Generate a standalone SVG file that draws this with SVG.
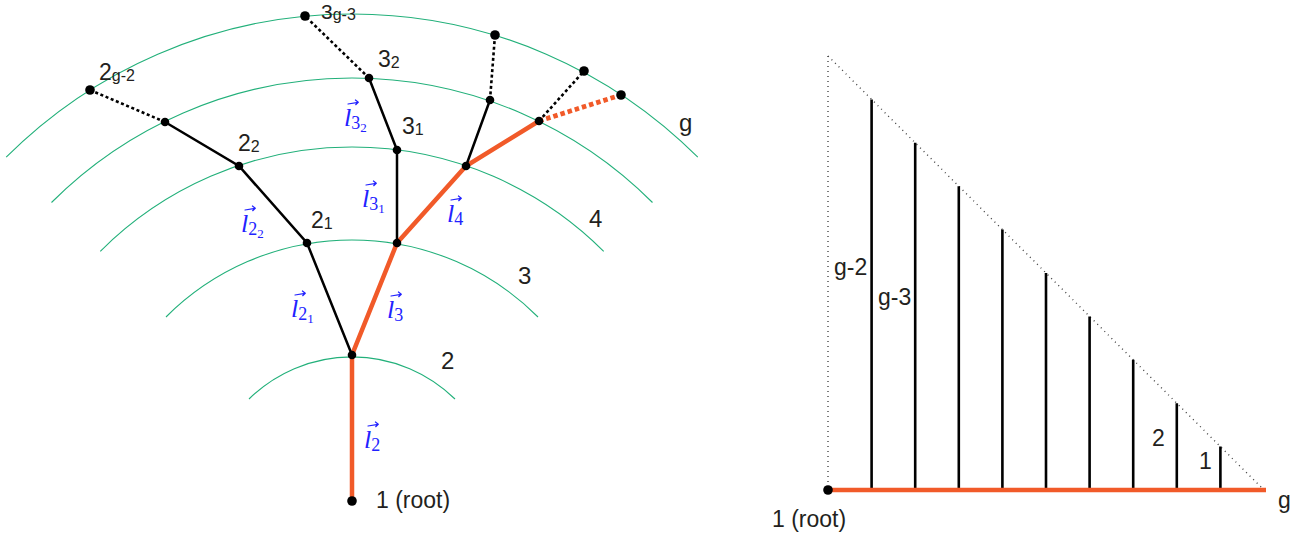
<svg xmlns="http://www.w3.org/2000/svg" xmlns:xlink="http://www.w3.org/1999/xlink" width="1312" height="535" viewBox="0 0 1312 535">
<style>
.arc{fill:none;stroke:#22b07a;stroke-width:1.1}
.e{fill:none;stroke:#000;stroke-width:2.5;stroke-linecap:round}
.ed{fill:none;stroke:#000;stroke-width:2.6;stroke-dasharray:3 2.6}
.o{fill:none;stroke:#f15a29;stroke-width:4.5}
.od{fill:none;stroke:#f15a29;stroke-width:4.8;stroke-dasharray:4.5 3}
.dot{fill:#000}
.t{font-family:"Liberation Sans",Arial,sans-serif;fill:#231f20;font-size:23px}
.big{font-size:24px}
.sub{font-size:16px}
.top{font-size:21px}
.vl{font-family:"Liberation Serif","Times New Roman",serif;font-style:italic;fill:#2222ff;font-size:26px}
.s1{font-style:normal;font-size:18px}
.s2{font-style:normal;font-size:13px}
.vec{fill:none;stroke:#2222ff;stroke-width:1.2;stroke-linecap:round;stroke-linejoin:round}
.dotted{fill:none;stroke:#444;stroke-width:1.4;stroke-dasharray:1 4}
.bar{stroke:#000;stroke-width:2.6}
</style>
<defs>
<path id="vec" d="M0 0 L10 -1.7 M7.4 -4 L10.3 -1.7 L7.7 0.7"/>
</defs>

<g id="arcs">
<path class="arc" d="M249 399 A147 147 0 0 1 455 399"/>
<path class="arc" d="M166 317 A263 263 0 0 1 538 317"/>
<path class="arc" d="M100.3 251.3 A356 356 0 0 1 603.7 251.3"/>
<path class="arc" d="M51.5 202.5 A425 425 0 0 1 652.5 202.5"/>
<path class="arc" d="M6.2 157.2 A489 489 0 0 1 697.8 157.2"/>
</g>

<g id="connectors">
<path class="o" d="M352 501 L352 355 L397 243 L466 166 L539 121"/>
<path class="od" d="M539 121 L621 95"/>
<path class="e" d="M352 355 L307 243 L239 166 L165 122"/>
<path class="e" d="M397 243 L397 150 L369 78"/>
<path class="e" d="M466 166 L490 100"/>
<path class="ed" d="M165 122 L90 90"/>
<path class="ed" d="M369 78 L305 16"/>
<path class="ed" d="M490 100 L495 35"/>
<path class="ed" d="M539 121 L584 71"/>
</g>

<g id="ring-labels">
<text class="t big" x="441" y="369">2</text>
<text class="t big" x="518" y="284">3</text>
<text class="t big" x="589" y="227">4</text>
<text class="t big" x="679" y="131">g</text>
</g>

<g id="node-root"><circle class="dot" cx="352" cy="501" r="4.8"/><text class="t" x="376" y="508">1 (root)</text></g>
<g id="node-2"><circle class="dot" cx="352" cy="355" r="4.3"/></g>
<g id="node-2-1"><circle class="dot" cx="307" cy="243" r="4.3"/><text class="t" x="311" y="228">2<tspan class="sub" dy="1">1</tspan></text></g>
<g id="node-2-2"><circle class="dot" cx="239" cy="166" r="4.3"/><text class="t" x="238" y="151">2<tspan class="sub" dy="1">2</tspan></text></g>
<g id="node-2-3"><circle class="dot" cx="165" cy="122" r="4.3"/></g>
<g id="node-2-g2"><circle class="dot" cx="90" cy="90" r="4.8"/><text class="t" x="99" y="80">2<tspan class="sub" dy="1">g-2</tspan></text></g>
<g id="node-3"><circle class="dot" cx="397" cy="243" r="4.3"/></g>
<g id="node-3-1"><circle class="dot" cx="397" cy="150" r="4.3"/><text class="t" x="402" y="134">3<tspan class="sub" dy="1">1</tspan></text></g>
<g id="node-3-2"><circle class="dot" cx="369" cy="78" r="4.3"/><text class="t" x="378" y="67">3<tspan class="sub" dy="1">2</tspan></text></g>
<g id="node-3-g3"><circle class="dot" cx="305" cy="16" r="4.8"/><text class="t top" x="321" y="19">3<tspan class="sub" dy="1">g-3</tspan></text></g>
<g id="node-4"><circle class="dot" cx="466" cy="166" r="4.3"/></g>
<g id="node-4-1"><circle class="dot" cx="490" cy="100" r="4.3"/></g>
<g id="node-4-g"><circle class="dot" cx="495" cy="35" r="4.8"/></g>
<g id="node-5"><circle class="dot" cx="539" cy="121" r="4.3"/></g>
<g id="node-5-g"><circle class="dot" cx="584" cy="71" r="4.8"/></g>
<g id="node-g"><circle class="dot" cx="621" cy="95" r="4.8"/></g>

<g id="vector-labels">
<text class="vl" x="364" y="448">l<tspan class="s1" dy="3">2</tspan></text>
<use href="#vec" class="vec" x="368" y="426"/>
<text class="vl" x="387" y="318">l<tspan class="s1" dy="3">3</tspan></text>
<use href="#vec" class="vec" x="391" y="296"/>
<text class="vl" x="291" y="317">l<tspan class="s1" dy="3">2</tspan><tspan class="s2" dy="3">1</tspan></text>
<use href="#vec" class="vec" x="295" y="295"/>
<text class="vl" x="241" y="232">l<tspan class="s1" dy="3">2</tspan><tspan class="s2" dy="3">2</tspan></text>
<use href="#vec" class="vec" x="245" y="210"/>
<text class="vl" x="344" y="126">l<tspan class="s1" dy="3">3</tspan><tspan class="s2" dy="3">2</tspan></text>
<use href="#vec" class="vec" x="348" y="104"/>
<text class="vl" x="362" y="207">l<tspan class="s1" dy="3">3</tspan><tspan class="s2" dy="3">1</tspan></text>
<use href="#vec" class="vec" x="366" y="185"/>
<text class="vl" x="447" y="222">l<tspan class="s1" dy="3">4</tspan></text>
<use href="#vec" class="vec" x="451" y="200"/>
</g>

<g id="triangle">
<path class="dotted" d="M828 56 L828 490"/>
<path class="dotted" d="M828 56 L1264 490"/>
<path class="bar" d="M871.6 490 V99.4 M915.2 490 V142.8 M958.8 490 V186.2 M1002.4 490 V229.6 M1046 490 V273 M1089.6 490 V316.4 M1133.2 490 V359.8 M1176.8 490 V403.2 M1220.4 490 V446.6"/>
<path class="o" d="M828 490 L1266 490"/>
<circle class="dot" cx="828" cy="490" r="4.8"/>
<text class="t" x="772" y="527">1 (root)</text>
<text class="t" x="1278" y="508">g</text>
<text class="t" x="834" y="275">g-2</text>
<text class="t" x="878" y="305">g-3</text>
<text class="t" x="1152" y="446">2</text>
<text class="t" x="1199" y="469">1</text>
</g>
</svg>
